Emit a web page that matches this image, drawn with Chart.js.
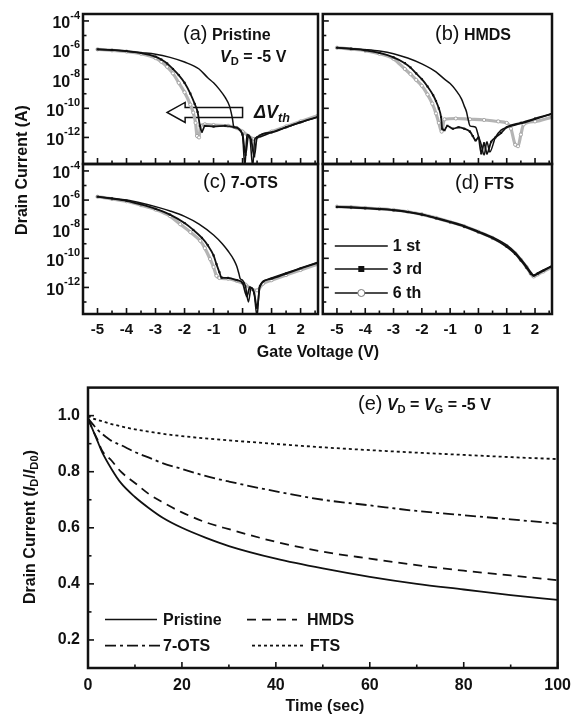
<!DOCTYPE html>
<html>
<head>
<meta charset="utf-8">
<title>Transfer curves and bias stress</title>
<script src="https://cdn.jsdelivr.net/npm/chart.js@4.4.1/dist/chart.umd.min.js"></script>
<style>
  body { margin: 0; background: #fff; }
  #fig { position: relative; width: 579px; height: 722px; overflow: hidden;
         font-family: "Liberation Sans", Arial, sans-serif; color: #111; }
  #fig canvas { position: absolute; }
  .t { position: absolute; white-space: nowrap; line-height: 1; }
  .p { font-size: 20px; }
  .n { font-size: 16px; font-weight: bold; }
  .ax { font-size: 16px; font-weight: bold; transform: translate(-50%, -50%); }
  .rot { transform: translate(-50%, -50%) rotate(-90deg); }
  sub { font-size: 70%; vertical-align: -0.3em; line-height: 0; }
</style>
</head>
<body>
<div id="fig">
  <canvas id="chartA" width="330" height="175" style="left:0;top:0"></canvas>
  <canvas id="chartB" width="246" height="175" style="left:318px;top:0"></canvas>
  <canvas id="chartC" width="330" height="194" style="left:0;top:150px"></canvas>
  <canvas id="chartD" width="246" height="194" style="left:318px;top:150px"></canvas>
  <canvas id="chartE" width="579" height="352" style="left:0;top:370px"></canvas>

  <div class="t" style="left:183px;top:23px"><span class="p">(a)</span> <span class="n">Pristine</span></div>
  <div class="t n" style="left:220px;top:49px"><i>V</i><sub>D</sub> = -5 V</div>
  <div class="t" style="left:435px;top:23px"><span class="p">(b)</span> <span class="n">HMDS</span></div>
  <div class="t" style="left:203px;top:171px"><span class="p">(c)</span> <span class="n">7-OTS</span></div>
  <div class="t" style="left:455px;top:172px"><span class="p">(d)</span> <span class="n">FTS</span></div>
  <div class="t n" style="left:254px;top:103px;font-size:18px"><i>&Delta;V<sub>th</sub></i></div>
  <div class="t" style="left:358px;top:393px"><span class="p">(e)</span> <span class="n"><i>V</i><sub>D</sub> = <i>V</i><sub>G</sub> = -5 V</span></div>

  <div class="t ax rot" style="left:22px;top:170px">Drain Current (A)</div>
  <div class="t ax" style="left:318px;top:352px">Gate Voltage (V)</div>
  <div class="t ax rot" style="left:30px;top:527px">Drain Current (<i>I</i><sub>D</sub>/<i>I</i><sub>D0</sub>)</div>
  <div class="t ax" style="left:325px;top:706px">Time (sec)</div>
</div>

<script>
// axes for the transfer curves
const vgTicks = [-5, -4, -3, -2, -1, 0, 1, 2];
const vgMinor = [-4.5, -3.5, -2.5, -1.5, -0.5, 0.5, 1.5, 2.5];
const idTicks = [1e-4, 1e-6, 1e-8, 1e-10, 1e-12];
const idTickSup = ['-4', '-6', '-8', '-10', '-12'];
const idMinor = [1e-5, 1e-7, 1e-9, 1e-11, 1e-13];

// (a) Pristine
const aVg1 = [-5, -4.5, -4, -3.5, -3, -2.5, -2, -1.5, -1.2, -1, -0.8, -0.6, -0.45, -0.35, -0.3, -0.2, -0.1, 0, 0.08, 0.15, 0.25, 0.35, 0.42, 0.5, 1, 1.5, 2, 2.6];
const aId1 = [1.12e-6, 1e-6, 8.32e-7, 6.61e-7, 5.25e-7, 3.16e-7, 1.51e-7, 5.01e-8, 1.26e-8, 5.62e-9, 2.0e-9, 5.62e-10, 1.41e-10, 2.0e-11, 5.01e-12, 5.01e-12, 3.16e-12, 1.26e-12, 1e-14, 1.58e-12, 1e-12, 1e-14, 7.94e-13, 1e-12, 2.24e-12, 5.01e-12, 1.07e-11, 2.51e-11];
const aVg3 = [-5, -4.5, -4, -3.5, -3, -2.8, -2.6, -2.4, -2.2, -2, -1.8, -1.65, -1.55, -1.47, -1.4, -1.3, -1, -0.6, -0.3, 0, 0.1, 0.2, 0.3, 0.4, 0.5, 1, 1.5, 2, 2.6];
const aId3 = [1.12e-6, 1e-6, 8.51e-7, 6.31e-7, 3.55e-7, 2.24e-7, 1.2e-7, 5.01e-8, 1.91e-8, 5.62e-9, 1.02e-9, 2.0e-10, 5.62e-11, 6.31e-12, 2.51e-12, 6.31e-12, 5.62e-12, 6.31e-12, 5.01e-12, 1.58e-12, 6.31e-14, 1.26e-12, 6.31e-13, 5.01e-14, 1e-12, 2.24e-12, 5.01e-12, 1.12e-11, 2.63e-11];
const aVg6 = [-5, -4.5, -4, -3.5, -3, -2.8, -2.6, -2.4, -2.2, -2, -1.8, -1.7, -1.62, -1.57, -1.5, -1.45, -1.3, -1, -0.5, -0.2, 0, 0.2, 0.4, 0.6, 1, 1.5, 2, 2.6];
const aId6 = [1.12e-6, 9.55e-7, 7.94e-7, 5.62e-7, 2.82e-7, 1.58e-7, 7.08e-8, 2.51e-8, 5.62e-9, 1.26e-9, 1.78e-10, 5.01e-11, 1e-11, 1.26e-12, 1e-12, 6.31e-12, 7.94e-12, 7.08e-12, 6.31e-12, 4.47e-12, 2.51e-12, 1.26e-12, 7.94e-13, 1.26e-12, 2.51e-12, 5.62e-12, 1.26e-11, 3.16e-11];

// (b) HMDS
const bVg1 = [-5, -4.5, -4, -3.5, -3, -2.5, -2, -1.5, -1.2, -1, -0.8, -0.6, -0.5, -0.42, -0.37, -0.3, -0.1, 0, 0.1, 0.2, 0.3, 0.4, 0.6, 0.8, 1, 1.5, 2, 2.6];
const bId1 = [1.45e-6, 1.26e-6, 1.07e-6, 8.51e-7, 5.62e-7, 2.82e-7, 1.12e-7, 3.16e-8, 1e-8, 5.01e-9, 1.78e-9, 4.47e-10, 1.41e-10, 5.62e-11, 2.0e-11, 6.31e-12, 5.01e-12, 1.26e-12, 3.16e-13, 6.31e-14, 5.01e-13, 1e-13, 1e-12, 3.16e-12, 5.01e-12, 8.91e-12, 1.78e-11, 4.27e-11];
const bVg3 = [-5, -4.5, -4, -3.5, -3, -2.6, -2.4, -2.2, -2, -1.8, -1.6, -1.5, -1.4, -1.32, -1.28, -1.2, -1.1, -0.9, -0.7, -0.5, -0.3, -0.2, -0.1, 0, 0.1, 0.2, 0.3, 0.45, 0.6, 0.8, 1, 1.5, 2, 2.6];
const bId3 = [1.45e-6, 1.2e-6, 9.55e-7, 6.31e-7, 3.16e-7, 1.26e-7, 6.31e-8, 2.51e-8, 1e-8, 3.16e-9, 7.94e-10, 3.16e-10, 1e-10, 2.51e-11, 3.98e-12, 3.16e-12, 6.31e-12, 3.98e-12, 5.01e-12, 3.98e-12, 2.51e-12, 1.26e-12, 6.31e-13, 1e-12, 7.94e-14, 3.98e-13, 7.94e-14, 5.01e-13, 1e-12, 2.0e-12, 5.01e-12, 1e-11, 2.0e-11, 4.27e-11];
const bVg6 = [-5, -4.5, -4, -3.5, -3, -2.6, -2.4, -2.2, -2, -1.8, -1.63, -1.5, -1.4, -1.3, -1.2, -0.8, -0.3, 0.2, 0.7, 1, 1.15, 1.3, 1.4, 1.5, 1.6, 2, 2.6];
const bId6 = [1.45e-6, 1.17e-6, 9.12e-7, 5.62e-7, 2.51e-7, 5.01e-8, 2.24e-8, 8.91e-9, 3.55e-9, 8.91e-10, 2.09e-10, 4.47e-11, 1e-11, 2.51e-12, 1.78e-11, 2.0e-11, 1.78e-11, 1.58e-11, 1.26e-11, 1e-11, 3.98e-12, 3.16e-13, 2.51e-13, 1.58e-12, 7.94e-12, 1.26e-11, 2.51e-11];

// (c) 7-OTS
const cVg1 = [-5, -4.5, -4, -3.5, -3, -2.5, -2, -1.5, -1, -0.7, -0.5, -0.3, -0.2, -0.12, -0.08, 0, 0.1, 0.2, 0.3, 0.4, 0.5, 0.58, 0.8, 1, 1.5, 2, 2.6];
const cId1 = [1.7e-6, 1.32e-6, 1e-6, 6.31e-7, 3.55e-7, 1.78e-7, 7.59e-8, 2.24e-8, 3.98e-9, 1e-9, 3.16e-10, 7.94e-11, 2.82e-11, 7.94e-12, 3.98e-12, 3.16e-12, 1.26e-12, 1e-13, 1e-12, 3.98e-13, 1e-14, 1e-12, 3.16e-12, 4.47e-12, 1e-11, 2.14e-11, 5.37e-11];
const cVg3 = [-5, -4.5, -4, -3.5, -3, -2.5, -2, -1.7, -1.4, -1.2, -1, -0.9, -0.8, -0.72, -0.5, -0.2, 0, 0.15, 0.25, 0.4, 0.5, 0.6, 1, 1.5, 2, 2.6];
const cId3 = [1.7e-6, 1.26e-6, 8.91e-7, 5.01e-7, 2.51e-7, 1e-7, 2.63e-8, 8.91e-9, 2.51e-9, 7.94e-10, 1.58e-10, 3.98e-11, 1.12e-11, 4.68e-12, 4.47e-12, 3.16e-12, 2.0e-12, 2.51e-13, 1e-12, 3.98e-13, 3.98e-14, 1.26e-12, 3.98e-12, 8.91e-12, 2.0e-11, 5.01e-11];
const cVg6 = [-5, -4.5, -4, -3.5, -3, -2.5, -2.15, -1.8, -1.46, -1.3, -1.12, -1, -0.9, -0.8, -0.5, -0.2, 0.1, 0.3, 0.5, 0.7, 1, 1.5, 2, 2.6];
const cId6 = [1.7e-6, 1.2e-6, 8.32e-7, 4.47e-7, 2.24e-7, 7.94e-8, 2.19e-8, 6.31e-9, 1.58e-9, 5.01e-10, 8.91e-11, 2.51e-11, 6.31e-12, 4.47e-12, 3.98e-12, 2.82e-12, 1.58e-12, 7.94e-13, 6.31e-13, 1.78e-12, 3.16e-12, 7.08e-12, 1.58e-11, 3.98e-11];

// (d) FTS - same gate sweep for all three runs
const dVg = [-5, -4.5, -4, -3.5, -3, -2.5, -2, -1.5, -1, -0.5, 0, 0.5, 1, 1.3, 1.5, 1.7, 1.85, 1.95, 2.1, 2.3, 2.6];
const dId1 = [3.47e-7, 3.16e-7, 2.82e-7, 2.51e-7, 2.09e-7, 1.58e-7, 1.05e-7, 6.03e-8, 3.31e-8, 1.7e-8, 7.08e-9, 2.82e-9, 7.94e-10, 2.51e-10, 8.91e-11, 2.82e-11, 1.12e-11, 7.08e-12, 1e-11, 1.58e-11, 3.16e-11];
const dId3 = [3.39e-7, 3.09e-7, 2.75e-7, 2.4e-7, 2.0e-7, 1.51e-7, 1e-7, 5.62e-8, 3.02e-8, 1.51e-8, 6.31e-9, 2.4e-9, 6.31e-10, 2.0e-10, 7.08e-11, 2.24e-11, 8.91e-12, 6.31e-12, 8.91e-12, 1.41e-11, 2.82e-11];
const dId6 = [3.55e-7, 3.24e-7, 2.88e-7, 2.51e-7, 2.09e-7, 1.58e-7, 1.05e-7, 6.03e-8, 3.16e-8, 1.58e-8, 6.61e-9, 2.51e-9, 7.08e-10, 2.24e-10, 7.94e-11, 2.51e-11, 8.91e-12, 5.62e-12, 7.94e-12, 1.26e-11, 2.51e-11];

// (e) bias stress, normalised drain current
const timeSec = [0, 1, 2, 3, 5, 7, 10, 13, 16, 20, 25, 30, 40, 50, 60, 70, 80, 90, 100];
const ratioPristine = [0.99, 0.95, 0.91, 0.87, 0.81, 0.76, 0.71, 0.67, 0.635, 0.60, 0.565, 0.535, 0.49, 0.455, 0.425, 0.40, 0.38, 0.36, 0.343];
const ratioHMDS = [0.99, 0.95, 0.915, 0.875, 0.84, 0.80, 0.76, 0.72, 0.69, 0.655, 0.62, 0.595, 0.55, 0.515, 0.49, 0.467, 0.447, 0.43, 0.413];
const ratioOTS = [0.99, 0.97, 0.95, 0.935, 0.91, 0.895, 0.87, 0.85, 0.83, 0.81, 0.785, 0.765, 0.73, 0.70, 0.68, 0.66, 0.645, 0.63, 0.615];
const ratioFTS = [1.0, 0.99, 0.985, 0.98, 0.97, 0.962, 0.951, 0.943, 0.935, 0.927, 0.919, 0.912, 0.899, 0.887, 0.877, 0.868, 0.86, 0.852, 0.845];
const timeTicks = [0, 20, 40, 60, 80, 100];
const timeMinor = [10, 30, 50, 70, 90];
const ratioTicks = [0.2, 0.4, 0.6, 0.8, 1.0];
const ratioMinor = [0.3, 0.5, 0.7, 0.9];

const FONT = '"Liberation Sans", Arial, sans-serif';
const INK = '#111';

const pts = (xs, ys) => xs.map((x, i) => ({x: x, y: ys[i]}));

// frame, inward ticks, superscript labels, legends, arrow
const boxPlugin = {
    id: 'box',
    beforeDatasetsDraw(chart, args, o) {
        if (!o.arrow) return;
        const {ctx, scales: {x, y}} = chart;
        const xt = x.getPixelForValue(o.arrow.to);
        const xe = x.getPixelForValue(o.arrow.from);
        const yc = y.getPixelForValue(o.arrow.at);
        ctx.save();
        ctx.beginPath();
        ctx.moveTo(xt, yc);
        ctx.lineTo(xt + 18, yc - 10);
        ctx.lineTo(xt + 18, yc - 5);
        ctx.lineTo(xe, yc - 5);
        ctx.lineTo(xe, yc + 5);
        ctx.lineTo(xt + 18, yc + 5);
        ctx.lineTo(xt + 18, yc + 10);
        ctx.closePath();
        ctx.fillStyle = '#fff';
        ctx.fill();
        ctx.strokeStyle = INK;
        ctx.lineWidth = 1.5;
        ctx.stroke();
        ctx.restore();
    },
    afterDatasetsDraw(chart, args, o) {
        const {ctx, chartArea: a, scales: {x, y}} = chart;
        ctx.save();
        ctx.strokeStyle = INK;
        ctx.fillStyle = INK;
        ctx.lineWidth = 1.6;
        const seg = (x1, y1, x2, y2) => { ctx.beginPath(); ctx.moveTo(x1, y1); ctx.lineTo(x2, y2); ctx.stroke(); };
        x.ticks.forEach(t => { const p = x.getPixelForValue(t.value); seg(p, a.bottom, p, a.bottom - 6); });
        (o.xMinor || []).forEach(v => { const p = x.getPixelForValue(v); seg(p, a.bottom, p, a.bottom - 3.5); });
        y.ticks.forEach(t => { const p = y.getPixelForValue(t.value); seg(a.left, p, a.left + 6, p); });
        (o.yMinor || []).forEach(v => { const p = y.getPixelForValue(v); seg(a.left, p, a.left + 3.5, p); });
        ctx.lineWidth = 2.5;
        ctx.strokeRect(a.left, a.top, a.right - a.left, a.bottom - a.top);

        if (o.sup) {
            ctx.textAlign = 'right';
            ctx.textBaseline = 'middle';
            y.ticks.forEach((t, i) => {
                const p = y.getPixelForValue(t.value);
                ctx.font = 'bold 11px ' + FONT;
                const sw = ctx.measureText(o.sup[i]).width;
                ctx.fillText(o.sup[i], a.left - 3, p - 5);
                ctx.font = 'bold 16px ' + FONT;
                ctx.fillText('10', a.left - 3 - sw, p + 3);
            });
        }

        if (o.legend) {
            ctx.textAlign = 'left';
            ctx.textBaseline = 'middle';
            ctx.font = 'bold 16px ' + FONT;
            o.legend.forEach(it => {
                const yy = a.top + it.row, x0 = a.left + it.x0, x1 = a.left + it.x1;
                ctx.lineWidth = it.width || 1.5;
                ctx.setLineDash(it.dash || []);
                seg(x0, yy, x1, yy);
                ctx.setLineDash([]);
                const xm = (x0 + x1) / 2;
                if (it.mark === 'rect') {
                    ctx.fillRect(xm - 3, yy - 3, 6, 6);
                } else if (it.mark === 'circle') {
                    ctx.beginPath();
                    ctx.arc(xm, yy, 3.5, 0, Math.PI * 2);
                    ctx.fillStyle = '#fff';
                    ctx.fill();
                    ctx.lineWidth = 1;
                    ctx.strokeStyle = '#777';
                    ctx.stroke();
                    ctx.strokeStyle = INK;
                    ctx.fillStyle = INK;
                }
                ctx.fillText(it.label, a.left + it.tx, yy + 1);
            });
        }
        ctx.restore();
    }
};

const run1 = { borderColor: INK, borderWidth: 1.5, pointRadius: 0 };
const run3 = { borderColor: INK, borderWidth: 1.8, pointStyle: 'rect', pointRadius: 1.5,
               pointBackgroundColor: INK, pointBorderWidth: 0 };
const run6 = { borderColor: '#b4b4b4', borderWidth: 3.2, pointStyle: 'circle', pointRadius: 1.6,
               pointBackgroundColor: '#fff', pointBorderColor: '#999', pointBorderWidth: 0.8 };

function transferChart(id, runs, opt) {
    return new Chart(document.getElementById(id), {
        type: 'line',
        data: {
            datasets: [
                { data: pts(runs[0][0], runs[0][1]), ...run1 },
                { data: pts(runs[1][0], runs[1][1]), ...run3 },
                { data: pts(runs[2][0], runs[2][1]), ...run6 }
            ]
        },
        options: {
            responsive: false,
            animation: false,
            events: [],
            cubicInterpolationMode: 'monotone',
            layout: { padding: { top: 14, right: 12, left: 0, bottom: 0 } },
            plugins: {
                legend: { display: false },
                tooltip: { enabled: false },
                box: { xMinor: vgMinor, yMinor: idMinor, sup: opt.sup, legend: opt.legend, arrow: opt.arrow }
            },
            scales: {
                x: {
                    type: 'linear', min: -5.5, max: 2.6,
                    afterBuildTicks: s => { s.ticks = vgTicks.map(v => ({value: v})); },
                    afterFit: s => { s.height = opt.xLabels ? 30 : 11; },
                    grid: { display: false, drawTicks: false },
                    border: { display: false },
                    ticks: { display: !!opt.xLabels, padding: 7, color: INK, font: { family: FONT, size: 15, weight: 'bold' } }
                },
                y: {
                    type: 'logarithmic', min: 1.5e-14, max: 3e-4,
                    afterBuildTicks: s => { s.ticks = idTicks.map(v => ({value: v})); },
                    afterFit: s => { s.width = opt.sup ? 83 : 0; },
                    grid: { display: false, drawTicks: false },
                    border: { display: false },
                    ticks: { display: false }
                }
            }
        },
        plugins: [boxPlugin]
    });
}

transferChart('chartA', [[aVg1, aId1], [aVg3, aId3], [aVg6, aId6]],
    { sup: idTickSup, arrow: { from: 0.0, to: -2.6, at: 5.2e-11 } });
transferChart('chartB', [[bVg1, bId1], [bVg3, bId3], [bVg6, bId6]], {});
transferChart('chartC', [[cVg1, cId1], [cVg3, cId3], [cVg6, cId6]],
    { sup: idTickSup, xLabels: true });
transferChart('chartD', [[dVg, dId1], [dVg, dId3], [dVg, dId6]],
    { xLabels: true, legend: [
        { label: '1 st', row: 82, x0: 12, x1: 65, tx: 70 },
        { label: '3 rd', row: 105, x0: 12, x1: 65, tx: 70, mark: 'rect' },
        { label: '6 th', row: 129, x0: 12, x1: 65, tx: 70, mark: 'circle' }
    ] });

// (e) normalised current under constant bias
const stressLine = { borderColor: INK, borderWidth: 1.8, pointRadius: 0, cubicInterpolationMode: 'monotone' };
new Chart(document.getElementById('chartE'), {
    type: 'line',
    data: {
        datasets: [
            { label: 'Pristine', data: pts(timeSec, ratioPristine), ...stressLine },
            { label: 'HMDS', data: pts(timeSec, ratioHMDS), ...stressLine, borderDash: [9, 6] },
            { label: '7-OTS', data: pts(timeSec, ratioOTS), ...stressLine, borderDash: [11, 4, 3, 4] },
            { label: 'FTS', data: pts(timeSec, ratioFTS), ...stressLine, borderDash: [3, 3] }
        ]
    },
    options: {
        responsive: false,
        animation: false,
        events: [],
        layout: { padding: { top: 15, right: 17, left: 0, bottom: 0 } },
        plugins: {
            legend: { display: false },
            tooltip: { enabled: false },
            box: {
                xMinor: timeMinor, yMinor: ratioMinor,
                legend: [
                    { label: 'Pristine', row: 232, x0: 17, x1: 69, tx: 75 },
                    { label: 'HMDS', row: 232, x0: 159, x1: 209, tx: 219, dash: [9, 6], width: 1.8 },
                    { label: '7-OTS', row: 258, x0: 17, x1: 72, tx: 75, dash: [11, 4, 3, 4], width: 1.8 },
                    { label: 'FTS', row: 258, x0: 164, x1: 218, tx: 222, dash: [3, 3], width: 1.8 }
                ]
            }
        },
        scales: {
            x: {
                type: 'linear', min: 0, max: 100,
                afterBuildTicks: s => { s.ticks = timeTicks.map(v => ({value: v})); },
                afterFit: s => { s.height = 54; },
                grid: { display: false, drawTicks: false },
                border: { display: false },
                ticks: { padding: 8, color: INK, font: { family: FONT, size: 16, weight: 'bold' } }
            },
            y: {
                type: 'linear', min: 0.1, max: 1.1,
                afterBuildTicks: s => { s.ticks = ratioTicks.map(v => ({value: v})); },
                afterFit: s => { s.width = 88; },
                grid: { display: false, drawTicks: false },
                border: { display: false },
                ticks: { padding: 8, color: INK, font: { family: FONT, size: 16, weight: 'bold' },
                         callback: v => v.toFixed(1) }
            }
        }
    },
    plugins: [boxPlugin]
});
</script>
</body>
</html>
